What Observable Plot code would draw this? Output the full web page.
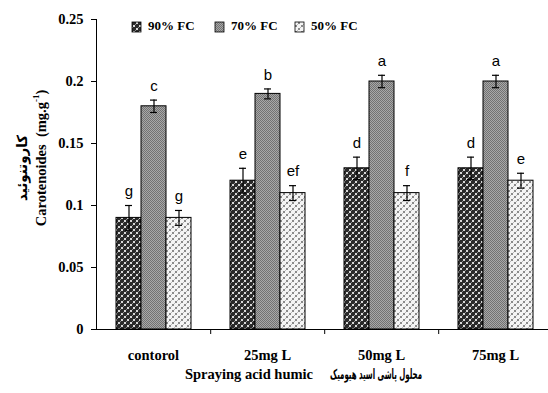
<!DOCTYPE html>
<html>
<head>
<meta charset="utf-8">
<script src="https://cdn.jsdelivr.net/npm/d3@7"></script>
<script src="https://cdn.jsdelivr.net/npm/@observablehq/plot@0.6"></script>
<style>
  html, body { margin: 0; padding: 0; background: #fff; overflow: hidden; }
  #chart { position: relative; width: 548px; height: 393px; }
</style>
</head>
<body>
<svg width="0" height="0" style="position:absolute">
  <defs>
    <pattern id="p90" width="6" height="6" patternUnits="userSpaceOnUse">
      <rect width="6" height="6" fill="#2a2a2a" shape-rendering="crispEdges"/>
      <rect x="1" y="1" width="2" height="2" fill="#d8d8d8" shape-rendering="crispEdges"/>
      <rect x="4" y="4" width="2" height="2" fill="#d8d8d8" shape-rendering="crispEdges"/>
      <rect x="0" y="3" width="1" height="1" fill="#888" shape-rendering="crispEdges"/>
      <rect x="3" y="0" width="1" height="1" fill="#888" shape-rendering="crispEdges"/>
    </pattern>
    <pattern id="p70" width="2" height="2" patternUnits="userSpaceOnUse">
      <rect width="2" height="2" fill="#a8a8a8" shape-rendering="crispEdges"/>
      <rect x="0" y="0" width="1" height="1" fill="#727272" shape-rendering="crispEdges"/>
      <rect x="1" y="1" width="1" height="1" fill="#727272" shape-rendering="crispEdges"/>
    </pattern>
    <pattern id="p50" width="6" height="6" patternUnits="userSpaceOnUse">
      <rect width="6" height="6" fill="#f4f4f4" shape-rendering="crispEdges"/>
      <rect x="1" y="1" width="2" height="2" fill="#8a8a8a" shape-rendering="crispEdges"/>
      <rect x="4" y="4" width="2" height="2" fill="#8a8a8a" shape-rendering="crispEdges"/>
      <rect x="0" y="3" width="1" height="1" fill="#bbb" shape-rendering="crispEdges"/>
      <rect x="3" y="0" width="1" height="1" fill="#bbb" shape-rendering="crispEdges"/>
    </pattern>
  </defs>
</svg>
<div id="chart"></div>
<script>
// ---- data ----
const categories = ["contorol", "25mg L", "50mg L", "75mg L"];
const series = ["90% FC", "70% FC", "50% FC"];
const fc90 = [0.09, 0.12, 0.13, 0.13];
const fc70 = [0.18, 0.19, 0.20, 0.20];
const fc50 = [0.09, 0.11, 0.11, 0.12];
const err90 = [0.010, 0.010, 0.009, 0.009];
const err70 = [0.005, 0.004, 0.005, 0.005];
const err50 = [0.006, 0.006, 0.006, 0.006];
const letters90 = ["g", "e", "d", "d"];
const letters70 = ["c", "b", "a", "a"];
const letters50 = ["g", "ef", "f", "e"];
const yTicks = [0, 0.05, 0.1, 0.15, 0.2, 0.25];
const yTickLabels = ["0", "0.05", "0.1", "0.15", "0.2", "0.25"];
const yTitle = "Carotenoides  (mg.g";
const yTitleSup = "-1";
const yTitleFa = "کاروتنوئید";
const xTitle = "Spraying acid humic";
const xTitleFa = "محلول پاشی اسید هیومیک";

const seriesValues = [fc90, fc70, fc50];
const seriesErr = [err90, err70, err50];
const seriesLetters = [letters90, letters70, letters50];
const rows = [];
categories.forEach((c, i) => {
  series.forEach((s, j) => {
    const v = seriesValues[j][i], e = seriesErr[j][i];
    rows.push({cat: c, series: s, value: v, lo: v - e, hi: v + e, letter: seriesLetters[j][i]});
  });
});

const chart = Plot.plot({
  width: 548,
  height: 393,
  marginLeft: 96,
  marginRight: -4,
  marginTop: 19,
  marginBottom: 64,
  style: {
    fontFamily: "'Liberation Serif', 'Times New Roman', serif",
    fontWeight: "bold",
    fontSize: "14.5px",
    background: "white",
    color: "black",
    overflow: "visible"
  },
  facet: {data: rows, x: "cat"},
  fx: {domain: categories, padding: 0, label: null, tickSize: 0, tickPadding: 20, axis: "bottom"},
  x: {domain: series, paddingInner: 0, paddingOuter: 0.75, axis: null},
  y: {
    domain: [0, 0.25],
    ticks: yTicks,
    tickFormat: (d) => yTickLabels[yTicks.indexOf(d)],
    tickSize: 5,
    tickPadding: 8,
    label: null,
    line: true
  },
  color: {domain: series, range: ["url(#p90)", "url(#p70)", "url(#p50)"]},
  marks: [
    Plot.barY(rows, {x: "series", y: "value", fill: "series", stroke: "black", strokeWidth: 1}),
    Plot.ruleX(rows, {x: "series", y1: "lo", y2: "hi", stroke: "black", strokeWidth: 1.2}),
    Plot.tickY(rows, {x: "series", y: "hi", stroke: "black", strokeWidth: 1.2, insetLeft: 9, insetRight: 9}),
    Plot.tickY(rows, {x: "series", y: "lo", stroke: "black", strokeWidth: 1.2, insetLeft: 9, insetRight: 9}),
    Plot.text(rows, {
      x: "series", y: "hi", text: "letter", dy: -14,
      fontFamily: "'Liberation Sans', Arial, sans-serif", fontWeight: "normal", fontSize: 15, fill: "black"
    }),
    Plot.ruleY([0], {stroke: "black", strokeWidth: 1}),
    Plot.ruleX(["50% FC"], {x: (d) => d, y1: () => 0, y2: () => 0, insetBottom: -5, dx: 31.7, stroke: "black"})
  ]
});

document.getElementById("chart").appendChild(chart);

// ---- titles and legend (text) ----
const svg = d3.select(chart);
const fontSerif = "'Liberation Serif', 'Times New Roman', serif";
const fontFa = "'DejaVu Sans', 'Noto Sans', sans-serif";

const yt = svg.append("text")
  .attr("transform", "translate(41,158) rotate(-90)")
  .attr("text-anchor", "middle")
  .attr("dominant-baseline", "central")
  .attr("font-family", fontSerif)
  .attr("font-weight", "bold")
  .attr("font-size", 14.5)
  .attr("fill", "black");
yt.append("tspan").text(yTitle);
yt.append("tspan").attr("baseline-shift", "super").attr("font-size", 9).text(yTitleSup);
yt.append("tspan").text(")");

svg.append("text")
  .attr("transform", "translate(22,168) rotate(-90)")
  .attr("text-anchor", "middle")
  .attr("dominant-baseline", "central")
  .attr("font-family", fontFa)
  .attr("font-weight", "bold")
  .attr("font-size", 14)
  .attr("textLength", 66)
  .attr("lengthAdjust", "spacingAndGlyphs")
  .attr("fill", "black")
  .text(yTitleFa);

svg.append("text")
  .attr("x", 313).attr("y", 379)
  .attr("text-anchor", "end")
  .attr("font-family", fontSerif)
  .attr("font-weight", "bold")
  .attr("font-size", 14.5)
  .attr("fill", "black")
  .text(xTitle);

svg.append("text")
  .attr("x", 330).attr("y", 379)
  .attr("text-anchor", "start")
  .attr("font-family", fontFa)
  .attr("font-weight", "bold")
  .attr("font-size", 14)
  .attr("textLength", 92)
  .attr("lengthAdjust", "spacingAndGlyphs")
  .attr("fill", "black")
  .text(xTitleFa);

const legendX = [132, 215, 295];
const legendFill = ["url(#p90)", "url(#p70)", "url(#p50)"];
series.forEach((s, j) => {
  svg.append("rect")
    .attr("x", legendX[j]).attr("y", 22).attr("width", 9).attr("height", 10)
    .attr("fill", legendFill[j]).attr("stroke", "black").attr("stroke-width", 0.8);
  svg.append("text")
    .attr("x", legendX[j] + 16).attr("y", 30)
    .attr("text-anchor", "start")
    .attr("font-family", fontSerif)
    .attr("font-weight", "bold")
    .attr("font-size", 13)
    .attr("fill", "black")
    .text(s);
});
</script>
</body>
</html>
